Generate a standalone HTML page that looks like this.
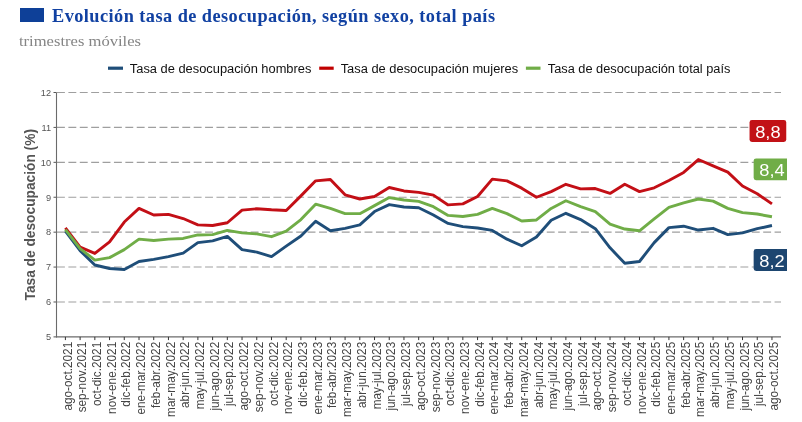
<!DOCTYPE html>
<html><head><meta charset="utf-8"><style>
html,body{margin:0;padding:0;background:#fff;}
body{width:802px;height:422px;overflow:hidden;}
svg{display:block;will-change:transform;}
.serif{font-family:"Liberation Serif",serif;}
.sans{font-family:"Liberation Sans",sans-serif;}
</style></head><body>
<svg width="802" height="422" viewBox="0 0 802 422">
<rect x="0" y="0" width="802" height="422" fill="#fff"/>

<rect x="20" y="8" width="24" height="14" fill="#0e4098"/>
<text class="serif" x="52" y="21.8" font-size="18.3" font-weight="bold" fill="#1141a2" textLength="443" lengthAdjust="spacing">Evolución tasa de desocupación, según sexo, total país</text>
<text class="serif" x="19" y="45.9" font-size="13.6" fill="#858585" textLength="122" lengthAdjust="spacingAndGlyphs">trimestres móviles</text>
<line x1="108" y1="68.2" x2="123" y2="68.2" stroke="#1f4e79" stroke-width="3.2"/>
<text class="sans" x="129.8" y="72.7" font-size="12.3" fill="#111" textLength="181.6" lengthAdjust="spacingAndGlyphs">Tasa de desocupación hombres</text>
<line x1="319.2" y1="68.2" x2="333.7" y2="68.2" stroke="#c00000" stroke-width="3.2"/>
<text class="sans" x="340.7" y="72.7" font-size="12.3" fill="#111" textLength="177.49999999999997" lengthAdjust="spacingAndGlyphs">Tasa de desocupación mujeres</text>
<line x1="525.9" y1="68.2" x2="540.5" y2="68.2" stroke="#70ad47" stroke-width="3.2"/>
<text class="sans" x="547.8" y="72.7" font-size="12.3" fill="#111" textLength="182.6" lengthAdjust="spacingAndGlyphs">Tasa de desocupación total país</text>
<line x1="53.5" y1="336.90" x2="56.5" y2="336.90" stroke="#555" stroke-width="1"/>
<text class="sans" x="51" y="340.20" font-size="9.2" fill="#555" text-anchor="end">5</text>
<line x1="57.0" y1="301.99" x2="781.0" y2="301.99" stroke="#9f9f9f" stroke-width="1.1" stroke-dasharray="7.9 3.49"/>
<line x1="53.5" y1="301.99" x2="56.5" y2="301.99" stroke="#555" stroke-width="1"/>
<text class="sans" x="51" y="305.29" font-size="9.2" fill="#555" text-anchor="end">6</text>
<line x1="57.0" y1="267.07" x2="781.0" y2="267.07" stroke="#9f9f9f" stroke-width="1.1" stroke-dasharray="7.9 3.49"/>
<line x1="53.5" y1="267.07" x2="56.5" y2="267.07" stroke="#555" stroke-width="1"/>
<text class="sans" x="51" y="270.37" font-size="9.2" fill="#555" text-anchor="end">7</text>
<line x1="57.0" y1="232.16" x2="781.0" y2="232.16" stroke="#9f9f9f" stroke-width="1.1" stroke-dasharray="7.9 3.49"/>
<line x1="53.5" y1="232.16" x2="56.5" y2="232.16" stroke="#555" stroke-width="1"/>
<text class="sans" x="51" y="235.46" font-size="9.2" fill="#555" text-anchor="end">8</text>
<line x1="57.0" y1="197.24" x2="781.0" y2="197.24" stroke="#9f9f9f" stroke-width="1.1" stroke-dasharray="7.9 3.49"/>
<line x1="53.5" y1="197.24" x2="56.5" y2="197.24" stroke="#555" stroke-width="1"/>
<text class="sans" x="51" y="200.54" font-size="9.2" fill="#555" text-anchor="end">9</text>
<line x1="57.0" y1="162.33" x2="781.0" y2="162.33" stroke="#9f9f9f" stroke-width="1.1" stroke-dasharray="7.9 3.49"/>
<line x1="53.5" y1="162.33" x2="56.5" y2="162.33" stroke="#555" stroke-width="1"/>
<text class="sans" x="51" y="165.63" font-size="9.2" fill="#555" text-anchor="end">10</text>
<line x1="57.0" y1="127.41" x2="781.0" y2="127.41" stroke="#9f9f9f" stroke-width="1.1" stroke-dasharray="7.9 3.49"/>
<line x1="53.5" y1="127.41" x2="56.5" y2="127.41" stroke="#555" stroke-width="1"/>
<text class="sans" x="51" y="130.71" font-size="9.2" fill="#555" text-anchor="end">11</text>
<line x1="57.0" y1="92.50" x2="781.0" y2="92.50" stroke="#9f9f9f" stroke-width="1.1" stroke-dasharray="7.9 3.49"/>
<line x1="53.5" y1="92.50" x2="56.5" y2="92.50" stroke="#555" stroke-width="1"/>
<text class="sans" x="51" y="95.80" font-size="9.2" fill="#555" text-anchor="end">12</text>
<line x1="56.5" y1="92.50" x2="56.5" y2="337.4" stroke="#6b6b6b" stroke-width="1.1"/>
<line x1="56.0" y1="336.9" x2="781.0" y2="336.9" stroke="#6b6b6b" stroke-width="1.1"/>
<line x1="65.40" y1="336.9" x2="65.40" y2="340.09999999999997" stroke="#333" stroke-width="1"/>
<text class="sans" transform="translate(71.50,341.8) scale(1.07,1) rotate(-90)" x="0" y="0" font-size="11.8" fill="#444" text-anchor="end">ago-oct.2021</text>
<line x1="80.12" y1="336.9" x2="80.12" y2="340.09999999999997" stroke="#333" stroke-width="1"/>
<text class="sans" transform="translate(86.22,341.8) scale(1.07,1) rotate(-90)" x="0" y="0" font-size="11.8" fill="#444" text-anchor="end">sep-nov.2021</text>
<line x1="94.84" y1="336.9" x2="94.84" y2="340.09999999999997" stroke="#333" stroke-width="1"/>
<text class="sans" transform="translate(100.94,341.8) scale(1.07,1) rotate(-90)" x="0" y="0" font-size="11.8" fill="#444" text-anchor="end">oct-dic.2021</text>
<line x1="109.56" y1="336.9" x2="109.56" y2="340.09999999999997" stroke="#333" stroke-width="1"/>
<text class="sans" transform="translate(115.66,341.8) scale(1.07,1) rotate(-90)" x="0" y="0" font-size="11.8" fill="#444" text-anchor="end">nov-ene.2021</text>
<line x1="124.28" y1="336.9" x2="124.28" y2="340.09999999999997" stroke="#333" stroke-width="1"/>
<text class="sans" transform="translate(130.38,341.8) scale(1.07,1) rotate(-90)" x="0" y="0" font-size="11.8" fill="#444" text-anchor="end">dic-feb.2022</text>
<line x1="139.00" y1="336.9" x2="139.00" y2="340.09999999999997" stroke="#333" stroke-width="1"/>
<text class="sans" transform="translate(145.10,341.8) scale(1.07,1) rotate(-90)" x="0" y="0" font-size="11.8" fill="#444" text-anchor="end">ene-mar.2022</text>
<line x1="153.72" y1="336.9" x2="153.72" y2="340.09999999999997" stroke="#333" stroke-width="1"/>
<text class="sans" transform="translate(159.82,341.8) scale(1.07,1) rotate(-90)" x="0" y="0" font-size="11.8" fill="#444" text-anchor="end">feb-abr.2022</text>
<line x1="168.44" y1="336.9" x2="168.44" y2="340.09999999999997" stroke="#333" stroke-width="1"/>
<text class="sans" transform="translate(174.54,341.8) scale(1.07,1) rotate(-90)" x="0" y="0" font-size="11.8" fill="#444" text-anchor="end">mar-may.2022</text>
<line x1="183.16" y1="336.9" x2="183.16" y2="340.09999999999997" stroke="#333" stroke-width="1"/>
<text class="sans" transform="translate(189.26,341.8) scale(1.07,1) rotate(-90)" x="0" y="0" font-size="11.8" fill="#444" text-anchor="end">abr-jun.2022</text>
<line x1="197.88" y1="336.9" x2="197.88" y2="340.09999999999997" stroke="#333" stroke-width="1"/>
<text class="sans" transform="translate(203.98,341.8) scale(1.07,1) rotate(-90)" x="0" y="0" font-size="11.8" fill="#444" text-anchor="end">may-jul.2022</text>
<line x1="212.60" y1="336.9" x2="212.60" y2="340.09999999999997" stroke="#333" stroke-width="1"/>
<text class="sans" transform="translate(218.70,341.8) scale(1.07,1) rotate(-90)" x="0" y="0" font-size="11.8" fill="#444" text-anchor="end">jun-ago.2022</text>
<line x1="227.32" y1="336.9" x2="227.32" y2="340.09999999999997" stroke="#333" stroke-width="1"/>
<text class="sans" transform="translate(233.42,341.8) scale(1.07,1) rotate(-90)" x="0" y="0" font-size="11.8" fill="#444" text-anchor="end">jul-sep.2022</text>
<line x1="242.04" y1="336.9" x2="242.04" y2="340.09999999999997" stroke="#333" stroke-width="1"/>
<text class="sans" transform="translate(248.14,341.8) scale(1.07,1) rotate(-90)" x="0" y="0" font-size="11.8" fill="#444" text-anchor="end">ago-oct.2022</text>
<line x1="256.76" y1="336.9" x2="256.76" y2="340.09999999999997" stroke="#333" stroke-width="1"/>
<text class="sans" transform="translate(262.86,341.8) scale(1.07,1) rotate(-90)" x="0" y="0" font-size="11.8" fill="#444" text-anchor="end">sep-nov.2022</text>
<line x1="271.48" y1="336.9" x2="271.48" y2="340.09999999999997" stroke="#333" stroke-width="1"/>
<text class="sans" transform="translate(277.58,341.8) scale(1.07,1) rotate(-90)" x="0" y="0" font-size="11.8" fill="#444" text-anchor="end">oct-dic.2022</text>
<line x1="286.20" y1="336.9" x2="286.20" y2="340.09999999999997" stroke="#333" stroke-width="1"/>
<text class="sans" transform="translate(292.30,341.8) scale(1.07,1) rotate(-90)" x="0" y="0" font-size="11.8" fill="#444" text-anchor="end">nov-ene.2022</text>
<line x1="300.92" y1="336.9" x2="300.92" y2="340.09999999999997" stroke="#333" stroke-width="1"/>
<text class="sans" transform="translate(307.02,341.8) scale(1.07,1) rotate(-90)" x="0" y="0" font-size="11.8" fill="#444" text-anchor="end">dic-feb.2023</text>
<line x1="315.64" y1="336.9" x2="315.64" y2="340.09999999999997" stroke="#333" stroke-width="1"/>
<text class="sans" transform="translate(321.74,341.8) scale(1.07,1) rotate(-90)" x="0" y="0" font-size="11.8" fill="#444" text-anchor="end">ene-mar.2023</text>
<line x1="330.36" y1="336.9" x2="330.36" y2="340.09999999999997" stroke="#333" stroke-width="1"/>
<text class="sans" transform="translate(336.46,341.8) scale(1.07,1) rotate(-90)" x="0" y="0" font-size="11.8" fill="#444" text-anchor="end">feb-abr.2023</text>
<line x1="345.08" y1="336.9" x2="345.08" y2="340.09999999999997" stroke="#333" stroke-width="1"/>
<text class="sans" transform="translate(351.18,341.8) scale(1.07,1) rotate(-90)" x="0" y="0" font-size="11.8" fill="#444" text-anchor="end">mar-may.2023</text>
<line x1="359.80" y1="336.9" x2="359.80" y2="340.09999999999997" stroke="#333" stroke-width="1"/>
<text class="sans" transform="translate(365.90,341.8) scale(1.07,1) rotate(-90)" x="0" y="0" font-size="11.8" fill="#444" text-anchor="end">abr-jun.2023</text>
<line x1="374.52" y1="336.9" x2="374.52" y2="340.09999999999997" stroke="#333" stroke-width="1"/>
<text class="sans" transform="translate(380.62,341.8) scale(1.07,1) rotate(-90)" x="0" y="0" font-size="11.8" fill="#444" text-anchor="end">may-jul.2023</text>
<line x1="389.24" y1="336.9" x2="389.24" y2="340.09999999999997" stroke="#333" stroke-width="1"/>
<text class="sans" transform="translate(395.34,341.8) scale(1.07,1) rotate(-90)" x="0" y="0" font-size="11.8" fill="#444" text-anchor="end">jun-ago.2023</text>
<line x1="403.96" y1="336.9" x2="403.96" y2="340.09999999999997" stroke="#333" stroke-width="1"/>
<text class="sans" transform="translate(410.06,341.8) scale(1.07,1) rotate(-90)" x="0" y="0" font-size="11.8" fill="#444" text-anchor="end">jul-sep.2023</text>
<line x1="418.68" y1="336.9" x2="418.68" y2="340.09999999999997" stroke="#333" stroke-width="1"/>
<text class="sans" transform="translate(424.78,341.8) scale(1.07,1) rotate(-90)" x="0" y="0" font-size="11.8" fill="#444" text-anchor="end">ago-oct.2023</text>
<line x1="433.40" y1="336.9" x2="433.40" y2="340.09999999999997" stroke="#333" stroke-width="1"/>
<text class="sans" transform="translate(439.50,341.8) scale(1.07,1) rotate(-90)" x="0" y="0" font-size="11.8" fill="#444" text-anchor="end">sep-nov.2023</text>
<line x1="448.12" y1="336.9" x2="448.12" y2="340.09999999999997" stroke="#333" stroke-width="1"/>
<text class="sans" transform="translate(454.22,341.8) scale(1.07,1) rotate(-90)" x="0" y="0" font-size="11.8" fill="#444" text-anchor="end">oct-dic.2023</text>
<line x1="462.84" y1="336.9" x2="462.84" y2="340.09999999999997" stroke="#333" stroke-width="1"/>
<text class="sans" transform="translate(468.94,341.8) scale(1.07,1) rotate(-90)" x="0" y="0" font-size="11.8" fill="#444" text-anchor="end">nov-ene.2023</text>
<line x1="477.56" y1="336.9" x2="477.56" y2="340.09999999999997" stroke="#333" stroke-width="1"/>
<text class="sans" transform="translate(483.66,341.8) scale(1.07,1) rotate(-90)" x="0" y="0" font-size="11.8" fill="#444" text-anchor="end">dic-feb.2024</text>
<line x1="492.28" y1="336.9" x2="492.28" y2="340.09999999999997" stroke="#333" stroke-width="1"/>
<text class="sans" transform="translate(498.38,341.8) scale(1.07,1) rotate(-90)" x="0" y="0" font-size="11.8" fill="#444" text-anchor="end">ene-mar.2024</text>
<line x1="507.00" y1="336.9" x2="507.00" y2="340.09999999999997" stroke="#333" stroke-width="1"/>
<text class="sans" transform="translate(513.10,341.8) scale(1.07,1) rotate(-90)" x="0" y="0" font-size="11.8" fill="#444" text-anchor="end">feb-abr.2024</text>
<line x1="521.72" y1="336.9" x2="521.72" y2="340.09999999999997" stroke="#333" stroke-width="1"/>
<text class="sans" transform="translate(527.82,341.8) scale(1.07,1) rotate(-90)" x="0" y="0" font-size="11.8" fill="#444" text-anchor="end">mar-may.2024</text>
<line x1="536.44" y1="336.9" x2="536.44" y2="340.09999999999997" stroke="#333" stroke-width="1"/>
<text class="sans" transform="translate(542.54,341.8) scale(1.07,1) rotate(-90)" x="0" y="0" font-size="11.8" fill="#444" text-anchor="end">abr-jun.2024</text>
<line x1="551.16" y1="336.9" x2="551.16" y2="340.09999999999997" stroke="#333" stroke-width="1"/>
<text class="sans" transform="translate(557.26,341.8) scale(1.07,1) rotate(-90)" x="0" y="0" font-size="11.8" fill="#444" text-anchor="end">may-jul.2024</text>
<line x1="565.88" y1="336.9" x2="565.88" y2="340.09999999999997" stroke="#333" stroke-width="1"/>
<text class="sans" transform="translate(571.98,341.8) scale(1.07,1) rotate(-90)" x="0" y="0" font-size="11.8" fill="#444" text-anchor="end">jun-ago.2024</text>
<line x1="580.60" y1="336.9" x2="580.60" y2="340.09999999999997" stroke="#333" stroke-width="1"/>
<text class="sans" transform="translate(586.70,341.8) scale(1.07,1) rotate(-90)" x="0" y="0" font-size="11.8" fill="#444" text-anchor="end">jul-sep.2024</text>
<line x1="595.32" y1="336.9" x2="595.32" y2="340.09999999999997" stroke="#333" stroke-width="1"/>
<text class="sans" transform="translate(601.42,341.8) scale(1.07,1) rotate(-90)" x="0" y="0" font-size="11.8" fill="#444" text-anchor="end">ago-oct.2024</text>
<line x1="610.04" y1="336.9" x2="610.04" y2="340.09999999999997" stroke="#333" stroke-width="1"/>
<text class="sans" transform="translate(616.14,341.8) scale(1.07,1) rotate(-90)" x="0" y="0" font-size="11.8" fill="#444" text-anchor="end">sep-nov.2024</text>
<line x1="624.76" y1="336.9" x2="624.76" y2="340.09999999999997" stroke="#333" stroke-width="1"/>
<text class="sans" transform="translate(630.86,341.8) scale(1.07,1) rotate(-90)" x="0" y="0" font-size="11.8" fill="#444" text-anchor="end">oct-dic.2024</text>
<line x1="639.48" y1="336.9" x2="639.48" y2="340.09999999999997" stroke="#333" stroke-width="1"/>
<text class="sans" transform="translate(645.58,341.8) scale(1.07,1) rotate(-90)" x="0" y="0" font-size="11.8" fill="#444" text-anchor="end">nov-ene.2024</text>
<line x1="654.20" y1="336.9" x2="654.20" y2="340.09999999999997" stroke="#333" stroke-width="1"/>
<text class="sans" transform="translate(660.30,341.8) scale(1.07,1) rotate(-90)" x="0" y="0" font-size="11.8" fill="#444" text-anchor="end">dic-feb.2025</text>
<line x1="668.92" y1="336.9" x2="668.92" y2="340.09999999999997" stroke="#333" stroke-width="1"/>
<text class="sans" transform="translate(675.02,341.8) scale(1.07,1) rotate(-90)" x="0" y="0" font-size="11.8" fill="#444" text-anchor="end">ene-mar.2025</text>
<line x1="683.64" y1="336.9" x2="683.64" y2="340.09999999999997" stroke="#333" stroke-width="1"/>
<text class="sans" transform="translate(689.74,341.8) scale(1.07,1) rotate(-90)" x="0" y="0" font-size="11.8" fill="#444" text-anchor="end">feb-abr.2025</text>
<line x1="698.36" y1="336.9" x2="698.36" y2="340.09999999999997" stroke="#333" stroke-width="1"/>
<text class="sans" transform="translate(704.46,341.8) scale(1.07,1) rotate(-90)" x="0" y="0" font-size="11.8" fill="#444" text-anchor="end">mar-may.2025</text>
<line x1="713.08" y1="336.9" x2="713.08" y2="340.09999999999997" stroke="#333" stroke-width="1"/>
<text class="sans" transform="translate(719.18,341.8) scale(1.07,1) rotate(-90)" x="0" y="0" font-size="11.8" fill="#444" text-anchor="end">abr-jun.2025</text>
<line x1="727.80" y1="336.9" x2="727.80" y2="340.09999999999997" stroke="#333" stroke-width="1"/>
<text class="sans" transform="translate(733.90,341.8) scale(1.07,1) rotate(-90)" x="0" y="0" font-size="11.8" fill="#444" text-anchor="end">may-jul.2025</text>
<line x1="742.52" y1="336.9" x2="742.52" y2="340.09999999999997" stroke="#333" stroke-width="1"/>
<text class="sans" transform="translate(748.62,341.8) scale(1.07,1) rotate(-90)" x="0" y="0" font-size="11.8" fill="#444" text-anchor="end">jun-ago.2025</text>
<line x1="757.24" y1="336.9" x2="757.24" y2="340.09999999999997" stroke="#333" stroke-width="1"/>
<text class="sans" transform="translate(763.34,341.8) scale(1.07,1) rotate(-90)" x="0" y="0" font-size="11.8" fill="#444" text-anchor="end">jul-sep.2025</text>
<line x1="771.96" y1="336.9" x2="771.96" y2="340.09999999999997" stroke="#333" stroke-width="1"/>
<text class="sans" transform="translate(778.06,341.8) scale(1.07,1) rotate(-90)" x="0" y="0" font-size="11.8" fill="#444" text-anchor="end">ago-oct.2025</text>
<text class="sans" transform="translate(35.4,214.75) scale(1.1,1) rotate(-90)" x="0" y="0" font-size="13.75" font-weight="bold" fill="#555" text-anchor="middle">Tasa de desocupación (%)</text>
<g fill="none" stroke-width="2.9" stroke-linejoin="round" stroke-linecap="butt">
<path d="M65.40,231.11 L80.12,250.66 L94.84,264.98 L109.56,268.47 L124.28,269.52 L139.00,261.49 L153.72,259.39 L168.44,256.60 L183.16,253.11 L197.88,242.63 L212.60,240.89 L227.32,236.35 L242.04,249.61 L256.76,252.06 L271.48,256.60 L286.20,246.12 L300.92,236.00 L315.64,221.33 L330.36,230.76 L345.08,228.32 L359.80,224.83 L374.52,211.56 L389.24,204.57 L403.96,207.02 L418.68,207.72 L433.40,215.05 L448.12,223.43 L462.84,226.57 L477.56,227.97 L492.28,230.41 L507.00,239.14 L521.72,245.77 L536.44,237.05 L551.16,220.29 L565.88,213.30 L580.60,219.59 L595.32,228.67 L610.04,247.87 L624.76,263.23 L639.48,261.49 L654.20,242.63 L668.92,227.62 L683.64,226.22 L698.36,230.06 L713.08,228.32 L727.80,234.60 L742.52,232.86 L757.24,228.67 L771.96,225.52" stroke="#1f4e79"/>
<path d="M65.40,227.97 L80.12,247.17 L94.84,253.45 L109.56,241.93 L124.28,222.03 L139.00,208.42 L153.72,215.05 L168.44,214.35 L183.16,218.54 L197.88,224.83 L212.60,225.52 L227.32,222.73 L242.04,210.16 L256.76,208.76 L271.48,209.81 L286.20,210.51 L300.92,195.85 L315.64,180.83 L330.36,179.44 L345.08,194.80 L359.80,198.99 L374.52,196.54 L389.24,187.47 L403.96,190.96 L418.68,192.35 L433.40,195.15 L448.12,204.92 L462.84,203.88 L477.56,196.54 L492.28,179.09 L507.00,180.83 L521.72,188.17 L536.44,197.24 L551.16,191.66 L565.88,184.32 L580.60,188.86 L595.32,188.51 L610.04,193.40 L624.76,184.32 L639.48,191.66 L654.20,187.82 L668.92,180.48 L683.64,172.45 L698.36,159.54 L713.08,165.82 L727.80,172.10 L742.52,186.07 L757.24,193.75 L771.96,203.88" stroke="#c30f16"/>
<path d="M65.40,229.71 L80.12,248.57 L94.84,260.09 L109.56,257.64 L124.28,249.61 L139.00,239.14 L153.72,240.54 L168.44,239.14 L183.16,238.44 L197.88,234.95 L212.60,234.60 L227.32,230.41 L242.04,232.86 L256.76,233.90 L271.48,236.70 L286.20,231.11 L300.92,219.59 L315.64,204.23 L330.36,208.42 L345.08,213.65 L359.80,213.65 L374.52,205.62 L389.24,197.59 L403.96,200.04 L418.68,201.43 L433.40,206.67 L448.12,215.40 L462.84,216.45 L477.56,214.35 L492.28,208.42 L507.00,213.65 L521.72,220.98 L536.44,219.94 L551.16,208.42 L565.88,200.73 L580.60,206.67 L595.32,211.56 L610.04,224.13 L624.76,229.01 L639.48,230.76 L654.20,218.89 L668.92,207.37 L683.64,202.83 L698.36,198.99 L713.08,201.08 L727.80,208.42 L742.52,212.61 L757.24,214.00 L771.96,216.79" stroke="#70ad47"/>
</g>
<defs><clipPath id="pc"><rect x="0" y="0" width="787" height="422"/></clipPath></defs>
<g clip-path="url(#pc)">
<rect x="749.55" y="120.10" width="36.7" height="21.8" rx="2.4" fill="#c21116"/>
<text class="sans" x="767.90" y="137.70" font-size="17.3" fill="#fff" text-anchor="middle" textLength="25.4" lengthAdjust="spacingAndGlyphs">8,8</text>
<rect x="753.65" y="158.40" width="36.7" height="21.8" rx="2.4" fill="#70ad47"/>
<text class="sans" x="772.00" y="176.00" font-size="17.3" fill="#fff" text-anchor="middle" textLength="25.4" lengthAdjust="spacingAndGlyphs">8,4</text>
<rect x="753.65" y="249.10" width="36.7" height="21.8" rx="2.4" fill="#1d4670"/>
<text class="sans" x="772.00" y="266.70" font-size="17.3" fill="#fff" text-anchor="middle" textLength="25.4" lengthAdjust="spacingAndGlyphs">8,2</text>
</g>
</svg></body></html>
